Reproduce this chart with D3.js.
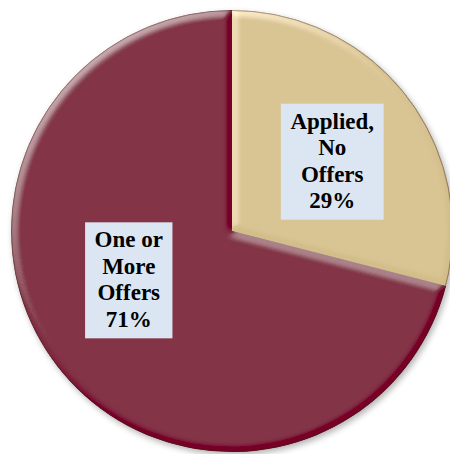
<!DOCTYPE html>
<html>
<head>
<meta charset="utf-8">
<script src="https://cdn.jsdelivr.net/npm/d3@7"></script>
<style>
  html, body { margin: 0; padding: 0; background: #fff; }
  svg { display: block; }
</style>
</head>
<body>
<svg id="chart" width="450" height="454"></svg>
<script>
// Job-search outcome shares
const categories = ["Applied, No Offers", "One or More Offers"];
const values = [29, 71];
const labelLines = [["Applied,", "No", "Offers", "29%"], ["One or", "More", "Offers", "71%"]];
const colors = ["#D9C494", "#833447"];

const width = 450, height = 454;
const cx = 232, cy = 231, radius = 221;

const svg = d3.select("#chart");
const defs = svg.append("defs");

// Soft drop shadow under the whole pie
const shadow = defs.append("filter").attr("id", "pieShadow")
  .attr("x", "-10%").attr("y", "-10%").attr("width", "120%").attr("height", "120%");
shadow.append("feGaussianBlur").attr("in", "SourceAlpha").attr("stdDeviation", 3).attr("result", "b");
shadow.append("feOffset").attr("in", "b").attr("dx", 2).attr("dy", 3).attr("result", "o");
shadow.append("feComponentTransfer").attr("in", "o").attr("result", "s")
  .append("feFuncA").attr("type", "linear").attr("slope", 0.3);
const sm = shadow.append("feMerge");
sm.append("feMergeNode").attr("in", "s");
sm.append("feMergeNode").attr("in", "SourceGraphic");

// Bevelled edges on each slice, lit from the upper left
const bevel = defs.append("filter").attr("id", "bevel")
  .attr("x", "-5%").attr("y", "-5%").attr("width", "110%").attr("height", "110%");
bevel.append("feGaussianBlur").attr("in", "SourceAlpha").attr("stdDeviation", 3.6).attr("result", "blur");
bevel.append("feDiffuseLighting").attr("in", "blur").attr("surfaceScale", 6)
  .attr("diffuseConstant", 1).attr("lighting-color", "#ffffff").attr("result", "light0")
  .append("feDistantLight").attr("azimuth", 235).attr("elevation", 30);
// soften the shaded (away-from-light) side more than the highlights
const ct = bevel.append("feComponentTransfer").attr("in", "light0").attr("result", "light");
["feFuncR", "feFuncG", "feFuncB"].forEach(f =>
  ct.append(f).attr("type", "table").attr("tableValues", "0.44 0.5 1"));
bevel.append("feComposite").attr("in", "SourceGraphic").attr("in2", "light")
  .attr("operator", "arithmetic").attr("k1", 0).attr("k2", 1).attr("k3", 0.72).attr("k4", -0.36)
  .attr("result", "lit");
bevel.append("feComposite").attr("in", "lit").attr("in2", "SourceAlpha").attr("operator", "in");

const pie = d3.pie().sort(null).value(d => d)(values);
const arc = d3.arc().innerRadius(0).outerRadius(radius);

const g = svg.append("g").attr("transform", `translate(${cx},${cy})`);
const slices = g.append("g").attr("filter", "url(#pieShadow)");

slices.selectAll("path")
  .data(pie)
  .join("path")
  .attr("d", arc)
  .attr("fill", (d, i) => colors[i])
  .attr("filter", "url(#bevel)");

// Thin dark rim along the outside of the pie
g.append("circle").attr("r", radius - 0.5)
  .attr("fill", "none").attr("stroke", "rgba(60,30,20,0.4)").attr("stroke-width", 1);

// Data labels in light boxes
const labelArc = d3.arc().innerRadius(118).outerRadius(118);
const nudges = [[7, 3], [-10, -23]];
const lineH = 26.5, padX = 9.5, padY = 6;

const labels = g.selectAll("g.label")
  .data(pie)
  .join("g")
  .attr("class", "label")
  .attr("transform", (d, i) => {
    const [x, y] = labelArc.centroid(d);
    return `translate(${x + nudges[i][0]},${y + nudges[i][1]})`;
  });

labels.each(function(d, i) {
  const lg = d3.select(this);
  const rect = lg.append("rect").attr("fill", "#DCE6F2");
  const lines = labelLines[i];
  const text = lg.append("text")
    .attr("text-anchor", "middle")
    .attr("fill", "#000")
    .style("font-family", '"Liberation Serif"')
    .style("font-weight", "bold")
    .style("font-size", "23px");
  const top = -lines.length * lineH / 2;
  lines.forEach((t, k) => {
    text.append("tspan").attr("x", 0).attr("y", top + (k + 1) * lineH - 6.5).text(t);
  });
  const w = d3.max(text.selectAll("tspan").nodes(), n => n.getComputedTextLength());
  const h = lines.length * lineH + padY * 2 - 2;
  rect.attr("x", -w / 2 - padX).attr("y", -h / 2).attr("width", w + padX * 2).attr("height", h);
});
</script>
</body>
</html>
